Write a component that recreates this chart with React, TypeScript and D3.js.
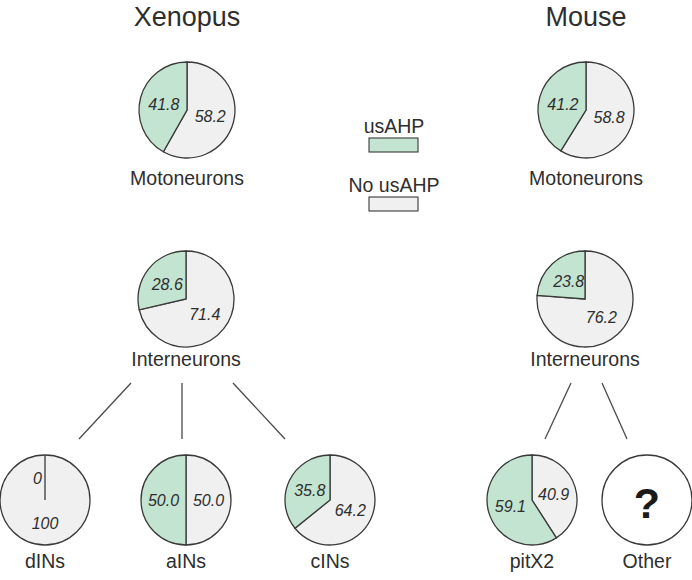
import React, { useEffect, useRef } from "react";
import * as d3 from "d3";

// chart data
const species = ["Xenopus", "Mouse"];
const pieNames = ["Motoneurons", "Interneurons", "Motoneurons", "Interneurons", "dINs", "aINs", "cINs", "pitX2"];
const usAHP = [41.8, 28.6, 41.2, 23.8, 0, 50.0, 35.8, 59.1];
const noUsAHP = [58.2, 71.4, 58.8, 76.2, 100, 50.0, 64.2, 40.9];
const legendLabels = ["usAHP", "No usAHP"];
const unknownName = "Other";

const GREEN = "#c3e4d0";
const GRAY = "#f0f0f0";
const INK = "#2e2e2e";

// layout (pixels)
const pieLayout = [
  { x: 187, y: 110, r: 48, ly: 185 },
  { x: 186, y: 299, r: 48, ly: 366 },
  { x: 586, y: 110, r: 48, ly: 185 },
  { x: 585, y: 299, r: 48, ly: 366 },
  { x: 45, y: 500, r: 45, ly: 568 },
  { x: 186, y: 500, r: 45, ly: 568 },
  { x: 330, y: 500, r: 45, ly: 568 },
  { x: 532, y: 500, r: 45, ly: 568 },
];
const otherLayout = { x: 647, y: 500, r: 45, ly: 568 };
const titleX = [187, 586];
// tree branches: from parent interneuron pie to children
const branches = [
  [131, 383, 79, 439],
  [182, 383, 182, 439],
  [233, 383, 285, 439],
  [571, 383, 545, 439],
  [602, 383, 627, 439],
];

const fmt = (v: number) => (v === 0 || v === 100 ? String(v) : v.toFixed(1));

type Slice = { key: string; value: number };

const App = () => {
  const ref = useRef<SVGSVGElement>(null);

  useEffect(() => {
    const svg = d3.select(ref.current);
    svg.selectAll("*").remove();
    const font = "'Liberation Sans', Arial, Helvetica, sans-serif";

    // titles
    svg
      .selectAll("text.title")
      .data(species)
      .join("text")
      .attr("class", "title")
      .attr("x", (_, i) => titleX[i])
      .attr("y", 26)
      .attr("text-anchor", "middle")
      .style("font-family", font)
      .style("font-size", "27px")
      .style("fill", INK)
      .text((d) => d);

    const pie = d3
      .pie<Slice>()
      .sort(null)
      .value((d) => d.value);

    pieNames.forEach((name, i) => {
      const L = pieLayout[i];
      const g = svg.append("g").attr("transform", `translate(${L.x},${L.y})`);
      const arc = d3.arc<d3.PieArcDatum<Slice>>().innerRadius(0).outerRadius(L.r);
      const slices = pie([
        { key: "no", value: noUsAHP[i] },
        { key: "us", value: usAHP[i] },
      ]);
      g.selectAll("path")
        .data(slices)
        .join("path")
        .attr("d", arc)
        .attr("fill", (d) => (d.data.key === "us" ? GREEN : GRAY))
        .attr("stroke", "#3a3a3a")
        .attr("stroke-width", 1.3);
      g.selectAll("text")
        .data(slices)
        .join("text")
        .attr("x", (d) => {
          const c = arc.centroid(d);
          return d.data.value === 0 ? c[0] - 3 : c[0];
        })
        .attr("y", (d) => arc.centroid(d)[1])
        .attr("dy", "0.38em")
        .attr("text-anchor", (d) => (d.data.value === 0 ? "end" : "middle"))
        .style("font-family", font)
        .style("font-size", "16px")
        .style("font-style", "italic")
        .style("fill", INK)
        .text((d) => fmt(d.data.value));

      svg
        .append("text")
        .attr("x", L.x)
        .attr("y", L.ly)
        .attr("text-anchor", "middle")
        .style("font-family", font)
        .style("font-size", "19.5px")
        .style("fill", INK)
        .text(name);
    });

    // unknown "Other" group
    svg
      .append("circle")
      .attr("cx", otherLayout.x)
      .attr("cy", otherLayout.y)
      .attr("r", otherLayout.r)
      .attr("fill", "#fff")
      .attr("stroke", "#3a3a3a")
      .attr("stroke-width", 1.3);
    svg
      .append("text")
      .attr("x", otherLayout.x)
      .attr("y", otherLayout.y + 18)
      .attr("text-anchor", "middle")
      .style("font-family", font)
      .style("font-size", "43px")
      .style("font-weight", "bold")
      .style("fill", "#1a1a1a")
      .text("?");
    svg
      .append("text")
      .attr("x", otherLayout.x)
      .attr("y", otherLayout.ly)
      .attr("text-anchor", "middle")
      .style("font-family", font)
      .style("font-size", "19.5px")
      .style("fill", INK)
      .text(unknownName);

    // branches
    svg
      .selectAll("line.branch")
      .data(branches)
      .join("line")
      .attr("class", "branch")
      .attr("x1", (d) => d[0])
      .attr("y1", (d) => d[1])
      .attr("x2", (d) => d[2])
      .attr("y2", (d) => d[3])
      .attr("stroke", "#4a4a4a")
      .attr("stroke-width", 1.3);

    // legend
    const leg = svg
      .selectAll("g.leg")
      .data(legendLabels)
      .join("g")
      .attr("class", "leg")
      .attr("transform", (_, i) => `translate(394,${133 + i * 59})`);
    leg
      .append("text")
      .attr("text-anchor", "middle")
      .style("font-family", font)
      .style("font-size", "19.5px")
      .style("fill", INK)
      .text((d) => d);
    leg
      .append("rect")
      .attr("x", -25)
      .attr("y", 5)
      .attr("width", 49)
      .attr("height", 14)
      .attr("fill", (_, i) => (i === 0 ? GREEN : GRAY))
      .attr("stroke", "#3a3a3a")
      .attr("stroke-width", 1.1);
  }, []);

  return (
    <svg
      ref={ref}
      width={692}
      height={580}
      style={{ position: "absolute", left: 0, top: 0, background: "#fff" }}
    />
  );
};

export default App;
